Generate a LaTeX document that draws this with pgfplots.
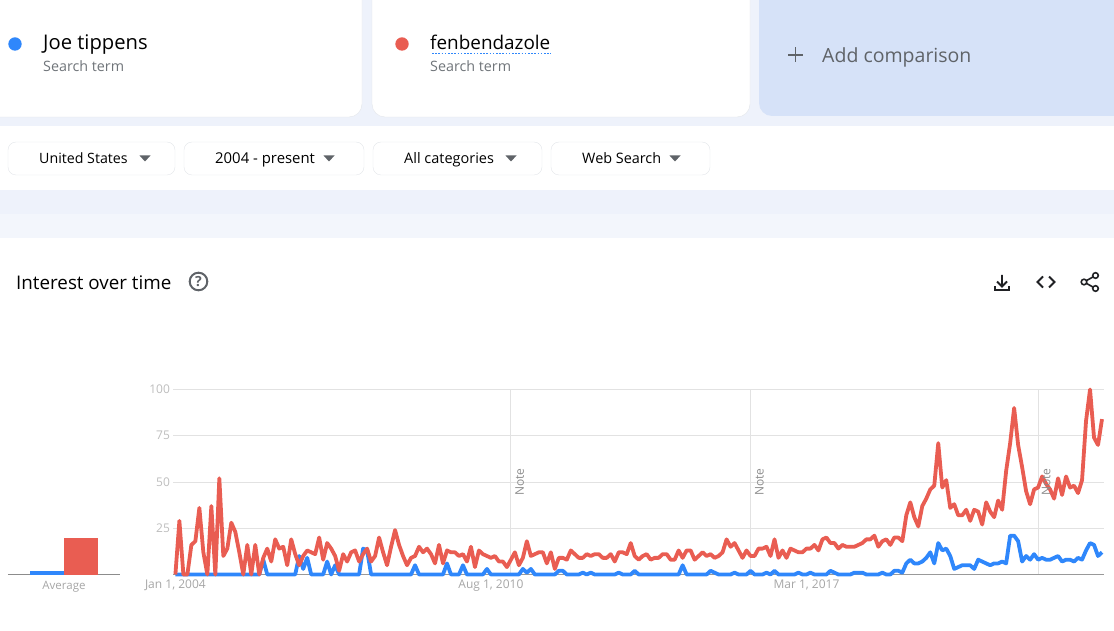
\documentclass[border=0pt]{standalone}
\usepackage{fontspec}
\setmainfont{Open Sans}
\usepackage{pgfplots}
\pgfplotsset{compat=1.18}
\definecolor{trblue}{HTML}{2F87FB}
\definecolor{trred}{HTML}{E95D52}
\definecolor{band}{HTML}{EEF2FB}
\definecolor{bandlight}{HTML}{F3F6FC}
\definecolor{addcard}{HTML}{D6E2F8}
\definecolor{cardedge}{HTML}{E3E6EA}
\definecolor{gridc}{HTML}{E2E2E2}
\definecolor{ytickc}{HTML}{BDBDBD}
\definecolor{xtickc}{HTML}{A6A6A6}
\definecolor{subtext}{HTML}{70757A}
\definecolor{addtext}{HTML}{5F6368}
\definecolor{icon}{HTML}{202124}
\newcommand{\fs}[1]{\fontsize{#1pt}{#1pt}\selectfont}
\begin{document}
\begin{tikzpicture}
\useasboundingbox (0,0) rectangle (1114pt,630pt);
\clip (0,0) rectangle (1114pt,630pt);
% page furniture, in pixels from the top left corner
\begin{scope}[x=1pt,y=-1pt,yshift=630pt]
  \fill[band] (0,0) rectangle (1114,126);
  \fill[band] (0,190) rectangle (1114,214);
  \fill[bandlight] (0,214) rectangle (1114,238);
  \draw[cardedge,fill=white,rounded corners=13pt] (-30,-30) rectangle (362,117);
  \draw[cardedge,fill=white,rounded corners=13pt] (372,-30) rectangle (750,117);
  \fill[addcard,rounded corners=13pt] (759,-30) rectangle (1150,116);
  \fill[trblue] (15,44) circle (6.7);
  \fill[trred] (402,44) circle (6.7);
  \node[anchor=base west,inner sep=0,text=black] at (43,50) {\fs{20.2}Joe tippens};
  \node[anchor=base west,inner sep=0,text=subtext] at (43,71.5) {\fs{14.3}Search term};
  \node[anchor=base west,inner sep=0,text=black] at (430,50) {\fs{18.9}fenbendazole};
  \draw[trblue,line width=1.5pt,dash pattern=on 1.6pt off 1.6pt] (432,53.5) -- (551,53.5);
  \node[anchor=base west,inner sep=0,text=subtext] at (430,71.5) {\fs{14.3}Search term};
  \draw[addtext,line width=1.3pt] (788,55) -- (803,55) (795.5,47.5) -- (795.5,62.5);
  \node[anchor=base west,inner sep=0,text=addtext] at (822,62.5) {\fs{19.5}Add comparison};
  % filter buttons
  \foreach \xa/\xb/\lab/\tx/\tri/\sz in {8/175/United States/39/145/14.2,184/364/2004 - present/215/329/14.9,373/542/All categories/404/511/14.5,551/710/Web Search/582/675/14.4}{
    \draw[cardedge,fill=white,rounded corners=8pt] (\xa,142) rectangle (\xb,175);
    \node[anchor=base west,inner sep=0,text=black] at (\tx,163.5) {\fs{\sz}\lab};
    \fill[addtext] (\tri-5.5,155.5) -- (\tri+5.5,155.5) -- (\tri,161.5) -- cycle;
  }
  \node[anchor=base west,inner sep=0,text=black] at (16,289.5) {\fs{18.8}Interest over time};
  % help icon
  \draw[addtext,line width=2pt] (198.5,281.5) circle (8.8);
  \node[text=addtext,inner sep=0] at (198.5,281.5) {\fs{14}\bfseries ?};
  % download
  \draw[icon,line width=1.8pt] (1002,275) -- (1002,285.5) (997,281.5) -- (1002,286.5) -- (1007,281.5);
  \draw[icon,line width=1.8pt] (995,286.5) -- (995,290) -- (1009,290) -- (1009,286.5);
  % embed
  \draw[icon,line width=1.8pt] (1043,276.5) -- (1037.5,282) -- (1043,287.5);
  \draw[icon,line width=1.8pt] (1049,276.5) -- (1054.5,282) -- (1049,287.5);
  % share
  \draw[icon,line width=1.6pt] (1084,282) -- (1095.5,275.5) (1084,282) -- (1095.5,288.5);
  \draw[icon,line width=1.6pt,fill=white] (1084,282) circle (2.8);
  \draw[icon,line width=1.6pt,fill=white] (1095.5,275.5) circle (2.8);
  \draw[icon,line width=1.6pt,fill=white] (1095.5,288.5) circle (2.8);
\end{scope}

% average bars
\begin{axis}[
    at={(8pt,55.5pt)}, anchor=origin,
    scale only axis, width=112pt, height=185pt,
    xmin=8, xmax=120, ymin=0, ymax=100,
    axis y line=none, axis x line=bottom,
    x axis line style={-,color=black!45,line width=0.9pt},
    xtick={64}, xticklabels={Average},
    xtick style={draw=none},
    xticklabel style={text=xtickc,font=\fs{11.5},yshift=1pt},
    ybar, bar shift=0pt, bar width=34pt, clip=false,
]
\addplot[fill=trblue,draw=none] coordinates {(47,1.8)};
\addplot[fill=trred,draw=none] coordinates {(81,19.5)};
\end{axis}

% interest over time, x counts months from Jan 2004
\begin{axis}[
    name=main,
    at={(173pt,55.5pt)}, anchor=south west,
    scale only axis, width=931pt, height=185pt,
    xmin=-0.6, xmax=232.5, ymin=0, ymax=100,
    axis line style={draw=none},
    tick style={draw=none},
    clip=false,
    xtick={0,79,158},
    xticklabels={{Jan 1, 2004},{Aug 1, 2010},{Mar 1, 2017}},
    ytick={25,50,75,100},
    ymajorgrids, grid style={gridc,line width=0.9pt},
    extra x ticks={84,144,216},
    extra x tick labels={},
    extra x tick style={grid=major,grid style={gridc,line width=1pt}},
    /pgf/number format/assume math mode=true,
    xticklabel style={text=xtickc,font=\fs{12},yshift=-1.5pt},
    yticklabel style={text=ytickc,font=\fs{12},xshift=0.5pt},
]
\draw[black!40,line width=0.9pt] (axis cs:-0.6,0) -- (axis cs:232.5,0);
\addplot[trblue,line width=3.8pt,line join=round] coordinates {
(0,0)(1,0)(2,0)(3,0)(4,0)(5,0)(6,0)(7,0)(8,0)(9,0)
(10,0)(11,0)(12,0)(13,0)(14,0)(15,0)(16,0)(17,0)(18,0)(19,0)
(20,0)(21,0)(22,8)(23,0)(24,0)(25,0)(26,0)(27,0)(28,0)(29,0)
(30,0)(31,10)(32,3)(33,9)(34,0)(35,0)(36,0)(37,0)(38,7)(39,0)
(40,5)(41,0)(42,0)(43,0)(44,0)(45,0)(46,0)(47,14)(48,13)(49,0)
(50,0)(51,0)(52,0)(53,0)(54,0)(55,0)(56,0)(57,0)(58,0)(59,0)
(60,5)(61,0)(62,0)(63,0)(64,0)(65,0)(66,0)(67,0)(68,6)(69,0)
(70,0)(71,0)(72,5)(73,0)(74,0)(75,0)(76,0)(77,0)(78,3)(79,0)
(80,0)(81,0)(82,0)(83,0)(84,0)(85,0)(86,0)(87,3)(88,1)(89,3)
(90,0)(91,0)(92,0)(93,0)(94,0)(95,0)(96,2)(97,2)(98,0)(99,0)
(100,0)(101,0)(102,1)(103,0)(104,1)(105,0)(106,0)(107,0)(108,0)(109,0)
(110,0)(111,1)(112,0)(113,0)(114,0)(115,2)(116,0)(117,0)(118,0)(119,0)
(120,0)(121,0)(122,0)(123,0)(124,0)(125,0)(126,0)(127,5)(128,0)(129,0)
(130,0)(131,0)(132,0)(133,0)(134,2)(135,1)(136,0)(137,0)(138,0)(139,0)
(140,1)(141,0)(142,0)(143,0)(144,2)(145,0)(146,0)(147,0)(148,1)(149,0)
(150,2)(151,0)(152,0)(153,0)(154,0)(155,0)(156,1)(157,0)(158,0)(159,1)
(160,0)(161,0)(162,0)(163,0)(164,2)(165,1)(166,0)(167,0)(168,0)(169,0)
(170,1)(171,1)(172,1)(173,0)(174,0)(175,0)(176,0)(177,1)(178,0)(179,0)
(180,2)(181,2)(182,1)(183,6)(184,8)(185,6)(186,6)(187,7)(188,9)(189,12)
(190,6)(191,17)(192,13)(193,14)(194,10)(195,3)(196,4)(197,5)(198,5)(199,5)
(200,3)(201,8)(202,7)(203,6)(204,5)(205,6)(206,6)(207,7)(208,6)(209,21)
(210,21)(211,18)(212,7)(213,10)(214,8)(215,11)(216,8)(217,9)(218,8)(219,8)
(220,9)(221,10)(222,7)(223,8)(224,8)(225,7)(226,9)(227,8)(228,13)(229,17)
(230,16)(231,10)(232,12)
};
\addplot[trred,line width=3.8pt,line join=round] coordinates {
(0,0)(1,29)(2,0)(3,0)(4,16)(5,18)(6,36)(7,12)(8,0)(9,37)
(10,0)(11,52)(12,10)(13,14)(14,28)(15,23)(16,12)(17,0)(18,16)(19,0)
(20,16)(21,0)(22,9)(23,14)(24,7)(25,19)(26,14)(27,15)(28,5)(29,19)
(30,11)(31,5)(32,10)(33,13)(34,12)(35,11)(36,20)(37,8)(38,17)(39,14)
(40,10)(41,2)(42,11)(43,7)(44,12)(45,13)(46,7)(47,11)(48,14)(49,7)
(50,10)(51,20)(52,12)(53,5)(54,15)(55,24)(56,16)(57,10)(58,5)(59,9)
(60,10)(61,15)(62,12)(63,14)(64,11)(65,6)(66,16)(67,6)(68,13)(69,12)
(70,12)(71,10)(72,11)(73,7)(74,15)(75,4)(76,13)(77,11)(78,10)(79,9)
(80,10)(81,7)(82,7)(83,4)(84,8)(85,12)(86,5)(87,9)(88,18)(89,10)
(90,11)(91,12)(92,12)(93,6)(94,12)(95,3)(96,9)(97,9)(98,8)(99,13)
(100,11)(101,9)(102,9)(103,11)(104,10)(105,11)(106,11)(107,9)(108,9)(109,11)
(110,7)(111,12)(112,12)(113,11)(114,17)(115,10)(116,8)(117,10)(118,11)(119,8)
(120,9)(121,9)(122,11)(123,11)(124,8)(125,8)(126,13)(127,9)(128,13)(129,13)
(130,8)(131,10)(132,12)(133,10)(134,11)(135,9)(136,10)(137,12)(138,19)(139,15)
(140,17)(141,13)(142,9)(143,13)(144,10)(145,10)(146,14)(147,14)(148,15)(149,10)
(150,19)(151,9)(152,13)(153,9)(154,14)(155,13)(156,12)(157,12)(158,14)(159,14)
(160,16)(161,13)(162,19)(163,20)(164,17)(165,17)(166,14)(167,16)(168,15)(169,15)
(170,15)(171,16)(172,17)(173,19)(174,19)(175,21)(176,15)(177,18)(178,19)(179,16)
(180,20)(181,20)(182,18)(183,32)(184,39)(185,31)(186,26)(187,37)(188,41)(189,46)
(190,48)(191,71)(192,47)(193,51)(194,36)(195,38)(196,32)(197,32)(198,35)(199,29)
(200,35)(201,34)(202,27)(203,39)(204,34)(205,31)(206,40)(207,35)(208,56)(209,71)
(210,90)(211,70)(212,58)(213,45)(214,38)(215,46)(216,47)(217,53)(218,49)(219,46)
(220,41)(221,52)(222,43)(223,53)(224,47)(225,48)(226,44)(227,51)(228,83)(229,100)
(230,74)(231,70)(232,84)
};
\node[rotate=90,text=black!45,font=\fs{12},inner sep=0] at (axis cs:86.2,50) {Note};
\node[rotate=90,text=black!45,font=\fs{12},inner sep=0] at (axis cs:146.2,50) {Note};
\node[rotate=90,text=black!45,font=\fs{12},inner sep=0] at (axis cs:218,50) {Note};
\end{axis}
\end{tikzpicture}
\end{document}
